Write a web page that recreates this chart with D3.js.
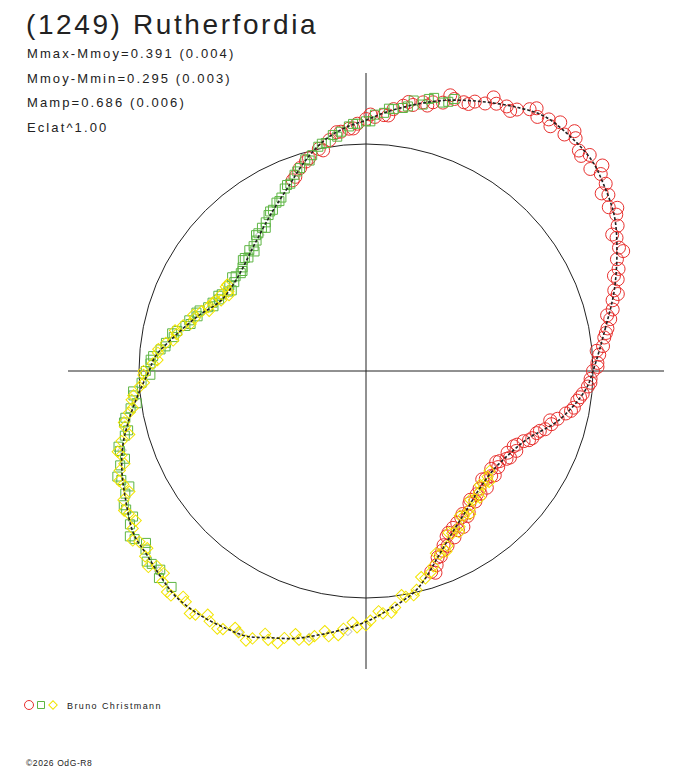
<!DOCTYPE html>
<html>
<head>
<meta charset="utf-8">
<script src="https://cdn.jsdelivr.net/npm/d3@7"></script>
<style>
  body { margin: 0; background: #fff; }
  svg { display: block; font-family: "Liberation Sans", Arial, sans-serif; }
</style>
</head>
<body>
<script>
// Polar lightcurve: angle = rotation phase (deg, counter-clockwise from +x), r = relative flux (1 = mean circle)
const title = "(1249) Rutherfordia";
const infoLines = ["Mmax-Mmoy=0.391 (0.004)", "Mmoy-Mmin=0.295 (0.003)", "Mamp=0.686 (0.006)", "Eclat^1.00"];
const observer = "Bruno Christmann";
const copyright = "\u00a92026 OdG-R8";

// fitted curve
const fitAngle = [0, 10, 18, 26, 32, 38, 43, 49, 55, 60, 67, 74, 80, 86, 90, 95, 100, 104, 108, 112, 121, 132, 144, 154, 162, 170, 176, 180,
  186, 192, 197, 202, 208, 215, 220, 225, 230, 236, 242, 246, 250, 255, 260, 264, 270, 275, 282, 286, 291, 299, 307, 314, 322, 330, 337, 346, 355];
const fitR = [1.00, 1.07, 1.15, 1.23, 1.29, 1.33, 1.36, 1.37, 1.37, 1.34, 1.29, 1.24, 1.19, 1.14, 1.105, 1.075, 1.035, 0.99, 0.94, 0.89, 0.81, 0.74, 0.70, 0.71, 0.78, 0.86, 0.93, 0.956,
  1.01, 1.07, 1.12, 1.16, 1.20, 1.25, 1.26, 1.28, 1.30, 1.30, 1.29, 1.28, 1.25, 1.22, 1.18, 1.15, 1.105, 1.06, 1.00, 0.95, 0.88, 0.80, 0.75, 0.72, 0.71, 0.73, 0.77, 0.88, 0.97];

// observations, session 1 (red circles)
const redAngle = [288, 290, 291, 293, 295, 296, 298, 299, 301, 302, 304, 306, 308, 310, 312, 314, 316, 318, 320, 322, 324, 326, 328, 330, 332, 334, 336, 338, 340, 342, 344, 346, 348, 350, 352, 354, 356, 358,
  0, 2, 4, 6, 8, 10, 12, 14, 16, 18, 20, 22, 24, 26, 28, 30, 32, 34, 36, 38, 40, 42, 44, 46, 48, 50, 52, 54, 56, 58, 60, 62, 64, 66, 68, 70, 72, 74, 76, 78, 80, 82, 84, 86, 88, 90, 92, 94, 96, 99, 102, 105, 108, 111,
  289, 292, 294, 297, 300, 303, 305, 309, 313, 317, 321, 325, 329, 333, 337, 341, 345, 349, 353, 357, 1, 5, 9, 13, 17, 21, 25, 29, 33, 37, 41, 45, 49, 53, 57, 61, 65, 69, 73, 77, 81, 85, 89, 93, 97, 101, 106, 110];
const redR = [0.93, 0.91, 0.88, 0.86, 0.85, 0.81, 0.83, 0.79, 0.78, 0.81, 0.76, 0.77, 0.74, 0.75, 0.73, 0.72, 0.74, 0.71, 0.72, 0.70, 0.72, 0.71, 0.73, 0.72, 0.75, 0.74, 0.76, 0.79, 0.80, 0.83, 0.85, 0.87, 0.90, 0.93, 0.94, 0.96, 0.98, 0.99,
  1.00, 1.02, 1.03, 1.05, 1.06, 1.08, 1.10, 1.12, 1.13, 1.15, 1.18, 1.20, 1.21, 1.24, 1.25, 1.28, 1.30, 1.29, 1.32, 1.34, 1.35, 1.33, 1.37, 1.35, 1.38, 1.36, 1.39, 1.37, 1.35, 1.36, 1.33, 1.32, 1.31, 1.29, 1.28, 1.26, 1.26, 1.23, 1.22, 1.21, 1.19, 1.18, 1.16, 1.13, 1.12, 1.11, 1.09, 1.07, 1.06, 1.03, 1.00, 0.97, 0.94, 0.90,
  0.94, 0.88, 0.84, 0.80, 0.81, 0.77, 0.78, 0.73, 0.74, 0.70, 0.73, 0.70, 0.74, 0.73, 0.78, 0.81, 0.84, 0.92, 0.95, 0.99, 1.02, 1.02, 1.07, 1.09, 1.16, 1.17, 1.25, 1.24, 1.32, 1.30, 1.38, 1.34, 1.40, 1.35, 1.38, 1.31, 1.33, 1.26, 1.27, 1.20, 1.20, 1.13, 1.13, 1.07, 1.06, 0.99, 0.96, 0.91];

// session 2 (green squares)
const greenAngle = [72, 74, 76, 78, 80, 82, 84, 86, 88, 90, 92, 94, 96, 98, 100, 102, 104, 106, 108, 110, 112, 114, 116, 118, 120, 122, 124, 126, 128, 130, 132, 134, 136, 138, 140, 142, 144, 146, 148, 150,
  152, 154, 156, 158, 160, 162, 164, 166, 168, 170, 172, 174, 176, 178, 180, 183, 186, 189, 192, 195, 198, 201, 204, 207, 210, 213, 216, 219, 222, 225, 228,
  73, 77, 81, 85, 89, 93, 97, 101, 105, 109, 113, 117, 121, 125, 129, 133, 137, 141, 145, 149, 153, 157, 161, 165, 169, 173, 177, 181, 185, 188, 191, 194, 197, 200, 203, 206, 209, 212, 215, 218, 221, 224];
const greenR = [1.26, 1.23, 1.24, 1.20, 1.21, 1.17, 1.16, 1.14, 1.13, 1.10, 1.09, 1.08, 1.06, 1.05, 1.02, 1.01, 0.98, 0.97, 0.94, 0.92, 0.89, 0.88, 0.85, 0.84, 0.82, 0.81, 0.79, 0.78, 0.77, 0.75, 0.74, 0.74, 0.72, 0.73, 0.71, 0.70, 0.71, 0.70, 0.71, 0.70,
  0.72, 0.72, 0.74, 0.75, 0.78, 0.78, 0.81, 0.82, 0.85, 0.86, 0.89, 0.91, 0.94, 0.95, 0.97, 0.99, 1.03, 1.05, 1.09, 1.10, 1.14, 1.16, 1.18, 1.19, 1.22, 1.24, 1.26, 1.25, 1.27, 1.29, 1.28,
  1.24, 1.23, 1.18, 1.16, 1.10, 1.09, 1.04, 1.02, 0.96, 0.93, 0.89, 0.84, 0.82, 0.77, 0.77, 0.72, 0.73, 0.70, 0.72, 0.69, 0.73, 0.73, 0.79, 0.80, 0.87, 0.89, 0.95, 0.95, 1.03, 1.02, 1.08, 1.08, 1.14, 1.13, 1.19, 1.16, 1.22, 1.21, 1.27, 1.23, 1.28, 1.26];

// session 3 (yellow diamonds)
const yellowAngle = [148, 150, 152, 154, 156, 158, 160, 163, 166, 169, 172, 175, 178, 181, 184, 187, 190, 193, 196, 199, 202, 205, 208, 211, 214, 217, 220, 223, 226, 229,
  232, 235, 238, 241, 244, 247, 250, 253, 256, 259, 262, 265, 268, 271, 274, 277, 280, 283, 286, 289, 292, 295, 298, 301, 304, 307, 310, 313, 316, 319,
  149, 151, 155, 159, 162, 165, 168, 171, 174, 177, 180, 183, 186, 189, 192, 195, 198, 201, 204, 207, 210, 213, 216, 219, 222, 225, 228, 231, 234, 237,
  240, 243, 246, 249, 252, 255, 258, 261, 264, 267, 270, 273, 276, 279, 282, 285, 288, 291, 294, 297, 300, 303, 306, 309, 312, 315, 318, 321];
const yellowR = [0.72, 0.70, 0.72, 0.71, 0.74, 0.75, 0.77, 0.79, 0.83, 0.85, 0.89, 0.92, 0.94, 0.98, 1.00, 1.04, 1.06, 1.09, 1.12, 1.14, 1.17, 1.18, 1.21, 1.22, 1.24, 1.25, 1.27, 1.26, 1.29, 1.31,
  1.29, 1.31, 1.30, 1.30, 1.28, 1.28, 1.26, 1.23, 1.22, 1.19, 1.18, 1.14, 1.13, 1.10, 1.07, 1.05, 1.01, 0.99, 0.95, 0.91, 0.87, 0.85, 0.81, 0.80, 0.77, 0.76, 0.74, 0.73, 0.72, 0.71,
  0.72, 0.69, 0.73, 0.74, 0.80, 0.80, 0.86, 0.86, 0.92, 0.92, 0.98, 0.98, 1.03, 1.04, 1.09, 1.08, 1.15, 1.14, 1.19, 1.17, 1.23, 1.21, 1.27, 1.24, 1.29, 1.26, 1.31, 1.28, 1.32, 1.28,
  1.31, 1.27, 1.30, 1.24, 1.26, 1.20, 1.21, 1.16, 1.17, 1.11, 1.12, 1.06, 1.07, 1.00, 1.01, 0.94, 0.93, 0.86, 0.87, 0.80, 0.82, 0.76, 0.78, 0.73, 0.75, 0.71, 0.73, 0.70];

// a few faint points (grey)
const greyAngle = [198, 224, 244, 258, 266, 300, 128];
const greyR = [1.13, 1.27, 1.28, 1.20, 1.15, 0.80, 0.76];

const width = 688, height = 768;
const cx = 366, cy = 371;
const unitRadius = 227;   // radius of the r = 1 circle
const axisHalf = 298;

const svg = d3.select("body").append("svg")
    .attr("width", width)
    .attr("height", height);

const r = d3.scaleLinear().domain([0, 1]).range([0, unitRadius]);
const toRad = d => (90 - d) * Math.PI / 180;   // math angle -> d3 radial angle

const plot = svg.append("g").attr("transform", `translate(${cx},${cy})`);

// axes cross
plot.append("line").attr("x1", -axisHalf).attr("x2", axisHalf).attr("y1", 0).attr("y2", 0)
    .attr("stroke", "#222").attr("stroke-width", 1);
plot.append("line").attr("x1", 0).attr("x2", 0).attr("y1", -axisHalf).attr("y2", axisHalf)
    .attr("stroke", "#222").attr("stroke-width", 1);

// mean circle
plot.append("circle").attr("r", r(1))
    .attr("fill", "none").attr("stroke", "#222").attr("stroke-width", 1);

const series = (angles, radii) => angles.map((a, i) => ({ a, r: radii[i] }));
const pos = d => d3.pointRadial(toRad(d.a), r(d.r));

// grey points
plot.append("g").selectAll("path")
  .data(series(greyAngle, greyR))
  .join("path")
    .attr("transform", d => `translate(${pos(d)}) rotate(45)`)
    .attr("d", d3.symbol(d3.symbolSquare, 36))
    .attr("fill", "none").attr("stroke", "#c8c8c8").attr("stroke-width", 1);

// red circles
plot.append("g").selectAll("circle")
  .data(series(redAngle, redR))
  .join("circle")
    .attr("cx", d => pos(d)[0])
    .attr("cy", d => pos(d)[1])
    .attr("r", 6.5)
    .attr("fill", "none").attr("stroke", "#e8302e").attr("stroke-width", 1);

// green squares
plot.append("g").selectAll("path")
  .data(series(greenAngle, greenR))
  .join("path")
    .attr("transform", d => `translate(${pos(d)})`)
    .attr("d", d3.symbol(d3.symbolSquare, 81))
    .attr("fill", "none").attr("stroke", "#5db543").attr("stroke-width", 1);

// yellow diamonds
plot.append("g").selectAll("path")
  .data(series(yellowAngle, yellowR))
  .join("path")
    .attr("transform", d => `translate(${pos(d)}) rotate(45)`)
    .attr("d", d3.symbol(d3.symbolSquare, 64))
    .attr("fill", "none").attr("stroke", "#f2e400").attr("stroke-width", 1);

// fitted curve
const fitLine = d3.lineRadial()
    .angle(d => toRad(d.a))
    .radius(d => r(d.r))
    .curve(d3.curveCatmullRomClosed);

plot.append("path")
    .attr("d", fitLine(series(fitAngle, fitR)))
    .attr("fill", "none")
    .attr("stroke", "#222")
    .attr("stroke-width", 1.6)
    .attr("stroke-dasharray", "3,2");

// title and info
svg.append("text").attr("x", 26).attr("y", 34)
    .attr("font-size", 28).attr("letter-spacing", 2.6).attr("fill", "#222")
    .text(title);

svg.append("g").selectAll("text")
  .data(infoLines)
  .join("text")
    .attr("x", 27)
    .attr("y", (d, i) => 58 + i * 24.7)
    .attr("font-size", 13).attr("letter-spacing", 2.1).attr("fill", "#222")
    .text(d => d);

// legend
const legend = svg.append("g").attr("transform", "translate(0,705)");
legend.append("circle").attr("cx", 29).attr("cy", 0).attr("r", 4.5)
    .attr("fill", "none").attr("stroke", "#e8302e");
legend.append("path").attr("transform", "translate(41,0)")
    .attr("d", d3.symbol(d3.symbolSquare, 49))
    .attr("fill", "none").attr("stroke", "#5db543");
legend.append("path").attr("transform", "translate(53,0) rotate(45)")
    .attr("d", d3.symbol(d3.symbolSquare, 36))
    .attr("fill", "none").attr("stroke", "#f2e400");
legend.append("text").attr("x", 67).attr("y", 4)
    .attr("font-size", 9).attr("letter-spacing", 1.4).attr("fill", "#222")
    .text(observer);

svg.append("text").attr("x", 26).attr("y", 766)
    .attr("font-size", 8.5).attr("letter-spacing", 0.6).attr("fill", "#222")
    .text(copyright);
</script>
</body>
</html>
